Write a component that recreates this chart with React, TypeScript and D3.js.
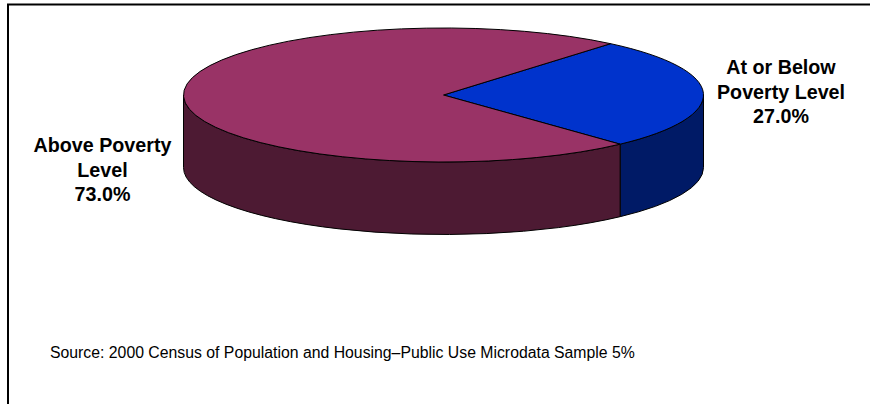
import React from "react";
import * as d3 from "d3";

// Share of the population by poverty status (percent)
const categories = ["At or Below Poverty Level", "Above Poverty Level"];
const shares = [27.0, 73.0];
const topColors = ["#0033cc", "#993366"];
const wallColors = ["#001a66", "#4d1a33"];
const labelLines = [["At or Below", "Poverty Level", "27.0%"], ["Above Poverty", "Level", "73.0%"]];
const labelCenters = [[781, 74], [102.5, 152]];
const sourceNote = "Source: 2000 Census of Population and Housing\u2013Public Use Microdata Sample 5%";

const WIDTH = 870;
const HEIGHT = 404;
const CX = 443.5;
const CY = 95;
const RX = 260;
const RY = 67;
const DEPTH = 72.5;
const START = (40 * Math.PI) / 180;

const toRad = (deg: number) => (deg * Math.PI) / 180;
const rimX = (a: number) => RX * Math.sin(a);
const rimY = (a: number) => -RY * Math.cos(a);

// Side wall of a slice between two rim angles, extruded downward by DEPTH
function wallPath(a0: number, a1: number) {
  const sweep = a1 - a0 > Math.PI ? 1 : 0;
  return [
    `M${rimX(a0)},${rimY(a0)}`,
    `A${RX},${RY} 0 ${sweep} 1 ${rimX(a1)},${rimY(a1)}`,
    `L${rimX(a1)},${rimY(a1) + DEPTH}`,
    `A${RX},${RY} 0 ${sweep} 0 ${rimX(a0)},${rimY(a0) + DEPTH}`,
    "Z",
  ].join(" ");
}

export default function App() {
  const pie = d3
    .pie<number>()
    .sort(null)
    .value((d) => d)
    .startAngle(START)
    .endAngle(START + 2 * Math.PI);
  const slices = pie(shares);
  const arc = d3.arc<d3.PieArcDatum<number>>().innerRadius(0).outerRadius(RX);

  // Only the front half of the rim (90deg to 270deg) shows a wall
  const walls = slices.map((s) => {
    const a0 = Math.max(s.startAngle, toRad(90));
    const a1 = Math.min(s.endAngle, toRad(270));
    return wallPath(a0, a1);
  });

  return (
    <svg
      width={WIDTH}
      height={HEIGHT}
      viewBox={`0 0 ${WIDTH} ${HEIGHT}`}
      style={{ position: "absolute", left: 0, top: 0, background: "#fff" }}
      fontFamily="'Liberation Sans', Arial, sans-serif"
    >
      <path d={`M8,${HEIGHT} V4.5 H${WIDTH}`} fill="none" stroke="#000" strokeWidth={2} />
      <g transform={`translate(${CX},${CY})`} stroke="#000" strokeWidth={1} strokeLinejoin="round">
        {walls.map((d, i) => (
          <path key={categories[i]} d={d} fill={wallColors[i]} />
        ))}
        <g transform={`scale(1,${RY / RX})`}>
          {slices.map((s, i) => (
            <path
              key={categories[i]}
              d={arc(s) ?? ""}
              fill={topColors[i]}
              vectorEffect="non-scaling-stroke"
            />
          ))}
        </g>
      </g>
      {labelLines.map((lines, i) => (
        <text
          key={categories[i]}
          x={labelCenters[i][0]}
          y={labelCenters[i][1]}
          textAnchor="middle"
          fontWeight="bold"
          fontSize={19.7}
          fill="#000"
        >
          {lines.map((line, j) => (
            <tspan key={line} x={labelCenters[i][0]} dy={j === 0 ? 0 : 24.5}>
              {line}
            </tspan>
          ))}
        </text>
      ))}
      <text x={50} y={358} fontSize={15.8} fill="#000">
        {sourceNote}
      </text>
    </svg>
  );
}
